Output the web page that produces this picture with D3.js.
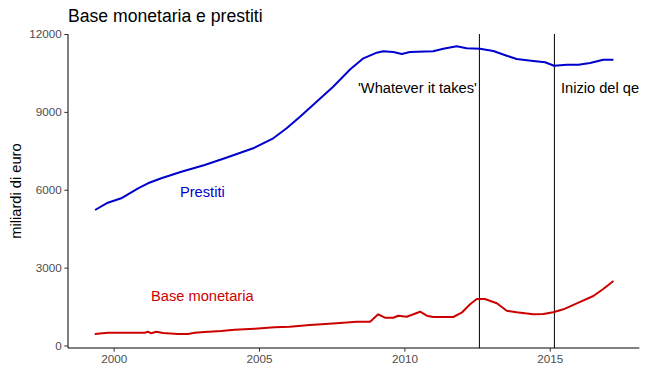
<!DOCTYPE html>
<html>
<head>
<meta charset="utf-8">
<script src="https://cdn.jsdelivr.net/npm/d3@7"></script>
<style>
  html, body { margin: 0; padding: 0; background: #fff; }
  svg { display: block; font-family: "Liberation Sans", Arial, sans-serif; }
</style>
</head>
<body>
<svg id="chart" width="648" height="392"></svg>
<script>
// ---- data ----
const prestitiYears = [1999.36, 1999.80, 2000.26, 2000.84, 2001.18, 2001.64, 2002.33, 2003.13, 2003.82, 2004.80, 2005.49, 2005.95, 2006.41, 2006.98, 2007.55, 2008.13, 2008.59, 2009.05, 2009.27, 2009.62, 2009.91, 2010.19, 2010.99, 2011.34, 2011.80, 2012.14, 2012.60, 2013.06, 2013.52, 2013.86, 2014.43, 2014.84, 2015.15, 2015.59, 2015.99, 2016.39, 2016.84, 2017.19];
const prestitiValues = [5220, 5501, 5671, 6056, 6249, 6441, 6695, 6954, 7212, 7597, 7982, 8367, 8814, 9392, 9970, 10632, 11064, 11280, 11334, 11307, 11230, 11307, 11334, 11434, 11526, 11449, 11434, 11345, 11164, 11037, 10960, 10910, 10779, 10818, 10818, 10883, 11010, 11010];

const baseYears = [1999.35, 1999.80, 2001.07, 2001.18, 2001.29, 2001.47, 2001.70, 2002.21, 2002.56, 2002.79, 2003.13, 2003.70, 2004.16, 2004.85, 2005.54, 2006.06, 2006.75, 2007.67, 2008.36, 2008.82, 2009.10, 2009.33, 2009.62, 2009.79, 2010.08, 2010.31, 2010.54, 2010.77, 2010.99, 2011.68, 2011.97, 2012.26, 2012.49, 2012.77, 2013.18, 2013.52, 2013.86, 2014.43, 2014.78, 2015.12, 2015.47, 2015.93, 2016.50, 2016.84, 2017.19];
const baseValues = [443, 493, 493, 532, 470, 532, 482, 443, 443, 493, 520, 559, 609, 647, 701, 724, 790, 855, 917, 917, 1202, 1071, 1071, 1148, 1109, 1202, 1302, 1148, 1098, 1098, 1264, 1587, 1791, 1791, 1626, 1341, 1279, 1202, 1213, 1279, 1395, 1626, 1907, 2177, 2485];

const eventYears = [2012.58, 2015.16];
const labelTexts = ["'Whatever it takes'", "Inizio del qe", "Prestiti", "Base monetaria"];
const labelYears = [2010.45, 2016.73, 2003.05, 2003.05];
const labelValues = [10000, 10000, 6000, 2000];
const labelColors = ["#000000", "#000000", "#0000CD", "#CD0000"];

const yTicks = [0, 3000, 6000, 9000, 12000];
const xTicks = [2000, 2005, 2010, 2015];

const titleText = "Base monetaria e prestiti";
const yTitle = "miliardi di euro";

// ---- layout ----
const svg = d3.select("#chart");
const mLeft = 68, mRight = 639.3, mTop = 34, mBottom = 348;

const x = d3.scaleLinear().domain([1998.43, 2018.08]).range([mLeft, mRight]);
const y = d3.scaleLinear().domain([-96, 12000]).range([mBottom, mTop]);

// vertical event lines
svg.append("g").selectAll("line").data(eventYears).join("line")
  .attr("x1", d => x(d)).attr("x2", d => x(d))
  .attr("y1", mTop).attr("y2", mBottom)
  .attr("stroke", "#000").attr("stroke-width", 1);

// series
const line = d3.line().x(d => x(d[0])).y(d => y(d[1]));
const prestiti = prestitiYears.map((d, i) => [d, prestitiValues[i]]);
const base = baseYears.map((d, i) => [d, baseValues[i]]);

svg.append("path").datum(prestiti).attr("d", line)
  .attr("fill", "none").attr("stroke", "#0000CD").attr("stroke-width", 2)
  .attr("stroke-linejoin", "round");
svg.append("path").datum(base).attr("d", line)
  .attr("fill", "none").attr("stroke", "#CD0000").attr("stroke-width", 2)
  .attr("stroke-linejoin", "round");

// axes
const yAxis = svg.append("g").attr("transform", `translate(${mLeft},0)`)
  .call(d3.axisLeft(y).tickValues(yTicks).tickSize(3.7).tickPadding(2.5).tickFormat(d3.format("d")));
const xAxis = svg.append("g").attr("transform", `translate(0,${mBottom})`)
  .call(d3.axisBottom(x).tickValues(xTicks).tickSize(3.7).tickPadding(2.5).tickFormat(d3.format("d")));
[yAxis, xAxis].forEach(g => {
  g.select(".domain").attr("stroke", "#000").attr("stroke-width", 1);
  g.selectAll(".tick line").attr("stroke", "#333").attr("stroke-width", 1);
  g.selectAll(".tick text").attr("fill", "#4D4D4D")
    .style("font-size", "11.7px").style("font-family", '"Liberation Sans", Arial, sans-serif');
});
yAxis.select(".domain").attr("d", `M0,${mBottom}V${mTop}`);
xAxis.select(".domain").attr("d", `M${mLeft},0H${mRight}`);

// labels
svg.append("g").selectAll("text").data(labelTexts).join("text")
  .attr("x", (d, i) => x(labelYears[i]))
  .attr("y", (d, i) => y(labelValues[i]))
  .attr("dy", "0.48em")
  .attr("text-anchor", "middle")
  .attr("fill", (d, i) => labelColors[i])
  .style("font-size", "14.67px")
  .text(d => d);

// title
svg.append("text").attr("x", mLeft).attr("y", 22)
  .style("font-size", "17.6px").attr("fill", "#000").text(titleText);

// y title
svg.append("text")
  .attr("transform", `translate(21,${(mTop + mBottom) / 2}) rotate(-90)`)
  .attr("text-anchor", "middle")
  .style("font-size", "14.67px").attr("fill", "#000").text(yTitle);
</script>
</body>
</html>
